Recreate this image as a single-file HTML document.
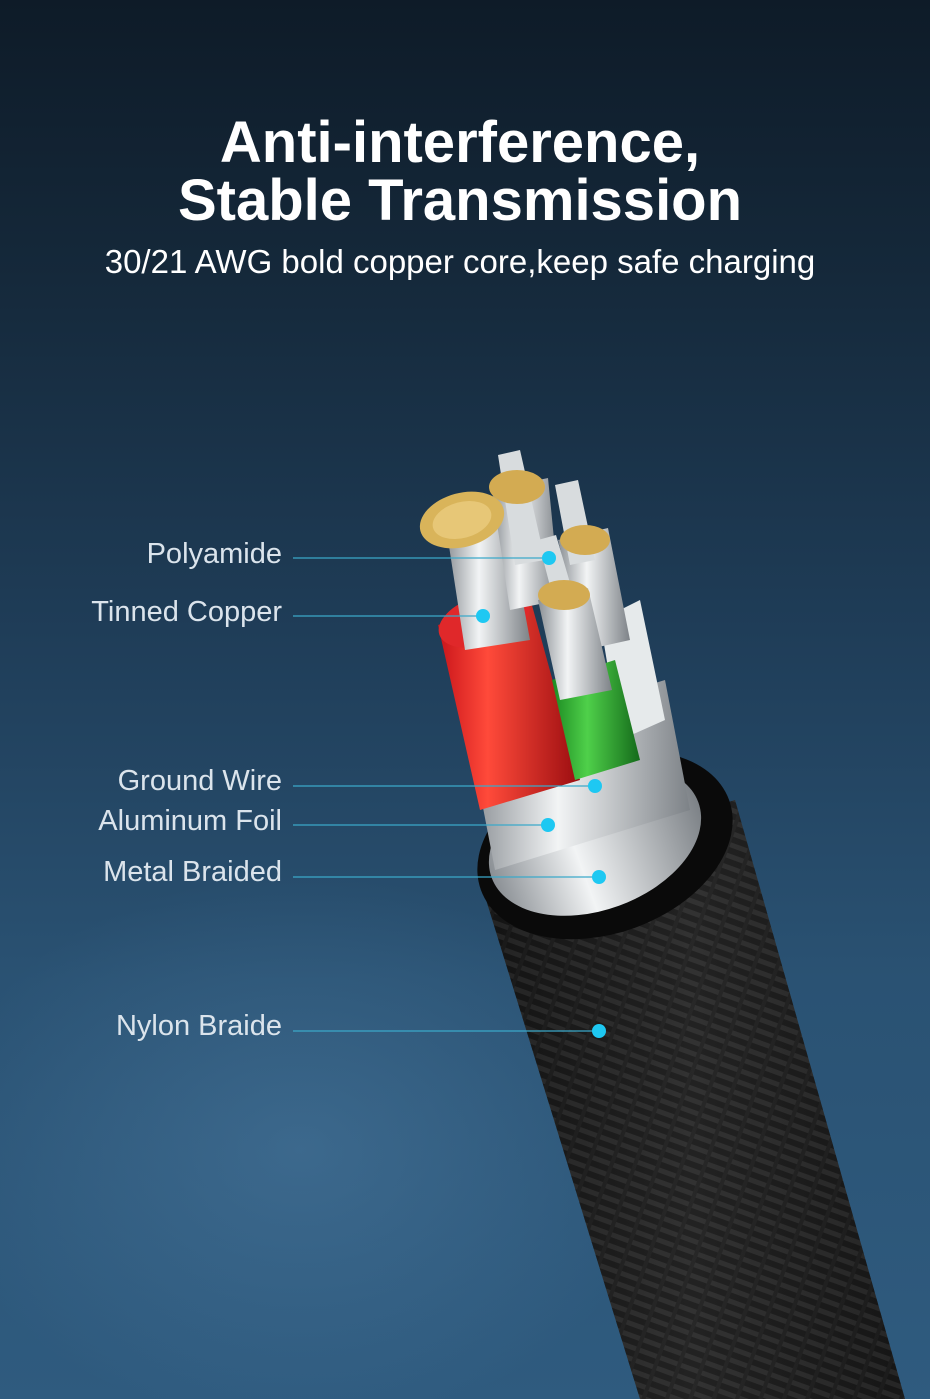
<!DOCTYPE html>
<html style="background:#2f5b7f"><head><meta charset="utf-8"><style>
html,body{margin:0;padding:0;width:930px;height:1399px;overflow:hidden}
body{position:relative;font-family:"Liberation Sans",sans-serif;
background:linear-gradient(180deg,#0e1b28 0%,#15293b 20%,#1f3d58 45%,#2a5273 70%,#2f5b7f 100%);}
.glow{position:absolute;left:-100px;top:850px;width:800px;height:600px;background:radial-gradient(ellipse at center,rgba(90,140,180,0.35),rgba(0,0,0,0) 65%)}
.t{position:absolute;left:0;width:930px;text-align:center;color:#fff;font-weight:bold}
.lab{position:absolute;right:648px;color:#dbe4ec;font-size:29px;white-space:nowrap}
</style></head><body>
<div class="glow"></div>
<div class="t" style="top:114px;font-size:58px;line-height:58px;left:-5px">Anti-interference,<br>Stable Transmission</div>
<div class="t" style="top:243px;font-size:33px;font-weight:normal;left:-5px">30/21 AWG bold copper core,keep safe charging</div>

<svg width="930" height="1399" style="position:absolute;left:0;top:0">
<defs>
<linearGradient id="blk" x1="0" x2="1"><stop offset="0" stop-color="#0c0c0c"/><stop offset="0.5" stop-color="#2a2a2a"/><stop offset="1" stop-color="#111"/></linearGradient>
<linearGradient id="sil" x1="0" x2="1"><stop offset="0" stop-color="#8a8f94"/><stop offset="0.4" stop-color="#f2f4f5"/><stop offset="1" stop-color="#7d8287"/></linearGradient>
<linearGradient id="red" x1="0" x2="1"><stop offset="0" stop-color="#c9141a"/><stop offset="0.35" stop-color="#ff4a3a"/><stop offset="1" stop-color="#9a0d10"/></linearGradient>
<linearGradient id="grn" x1="0" x2="1"><stop offset="0" stop-color="#1c8a22"/><stop offset="0.4" stop-color="#4fd04a"/><stop offset="1" stop-color="#146a1a"/></linearGradient>
<pattern id="weave" width="22" height="22" patternUnits="userSpaceOnUse" patternTransform="rotate(20)">
<rect width="22" height="22" fill="#1a1a1a"/><path d="M0 5 L22 5 M0 16 L22 16" stroke="#3a3a3a" stroke-width="5"/><path d="M5 0 L5 22" stroke="#252525" stroke-width="4"/></pattern>
</defs>
<path d="M480 880 L735 800 L905 1399 L640 1399 Z" fill="url(#weave)"/>
<path d="M480 880 L735 800 L905 1399 L640 1399 Z" fill="url(#blk)" opacity="0.5"/>
<ellipse cx="605" cy="845" rx="132" ry="88" transform="rotate(-20 605 845)" fill="#0a0a0a"/>
<ellipse cx="595" cy="840" rx="110" ry="70" transform="rotate(-20 595 840)" fill="url(#sil)"/>
<path d="M470 740 L665 680 L690 810 L495 870 Z" fill="url(#sil)"/>
<path d="M600 620 L640 600 L665 720 L620 740 Z" fill="#e6eaeb"/>
<path d="M438 625 L530 598 L580 780 L480 810 Z" fill="url(#red)"/>
<ellipse cx="484" cy="620" rx="47" ry="25" transform="rotate(-18 484 620)" fill="#e0282a"/>
<path d="M552 680 L615 660 L640 760 L575 780 Z" fill="url(#grn)"/>
<path d="M445 520 L505 505 L530 640 L465 650 Z" fill="url(#sil)"/>
<path d="M492 490 L548 478 L560 600 L510 610 Z" fill="url(#sil)"/>
<path d="M558 540 L608 528 L630 640 L585 650 Z" fill="url(#sil)"/>
<path d="M538 600 L588 588 L612 690 L560 700 Z" fill="url(#sil)"/>
<path d="M498 455 L520 450 L545 560 L515 565 Z" fill="#d8dcde"/>
<path d="M555 485 L578 480 L595 560 L570 565 Z" fill="#d8dcde"/>
<path d="M538 540 L556 535 L575 600 L555 605 Z" fill="#d8dcde"/>
<ellipse cx="462" cy="520" rx="43" ry="27" transform="rotate(-15 462 520)" fill="#d9b45a"/>
<ellipse cx="517" cy="487" rx="28" ry="17" fill="#d3ab52"/>
<ellipse cx="585" cy="540" rx="25" ry="15" fill="#d3ab52"/>
<ellipse cx="564" cy="595" rx="26" ry="15" fill="#d3ab52"/>
<ellipse cx="462" cy="520" rx="30" ry="18" transform="rotate(-15 462 520)" fill="#f0d48a" opacity="0.6"/>
<g stroke="#3ba9c9" stroke-width="1.3">
<line x1="293" y1="558" x2="549" y2="558"/>
<line x1="293" y1="616" x2="483" y2="616"/>
<line x1="293" y1="786" x2="595" y2="786"/>
<line x1="293" y1="825" x2="548" y2="825"/>
<line x1="293" y1="877" x2="599" y2="877"/>
<line x1="293" y1="1031" x2="599" y2="1031"/>
</g>
<g fill="#1ec8f2">
<circle cx="549" cy="558" r="7"/><circle cx="483" cy="616" r="7"/><circle cx="595" cy="786" r="7"/>
<circle cx="548" cy="825" r="7"/><circle cx="599" cy="877" r="7"/><circle cx="599" cy="1031" r="7"/>
</g>
</svg>
<div class="lab" style="top:538px">Polyamide</div>
<div class="lab" style="top:596px">Tinned Copper</div>
<div class="lab" style="top:765px">Ground Wire</div>
<div class="lab" style="top:805px">Aluminum Foil</div>
<div class="lab" style="top:856px">Metal Braided</div>
<div class="lab" style="top:1010px">Nylon Braide</div>
</body></html>
